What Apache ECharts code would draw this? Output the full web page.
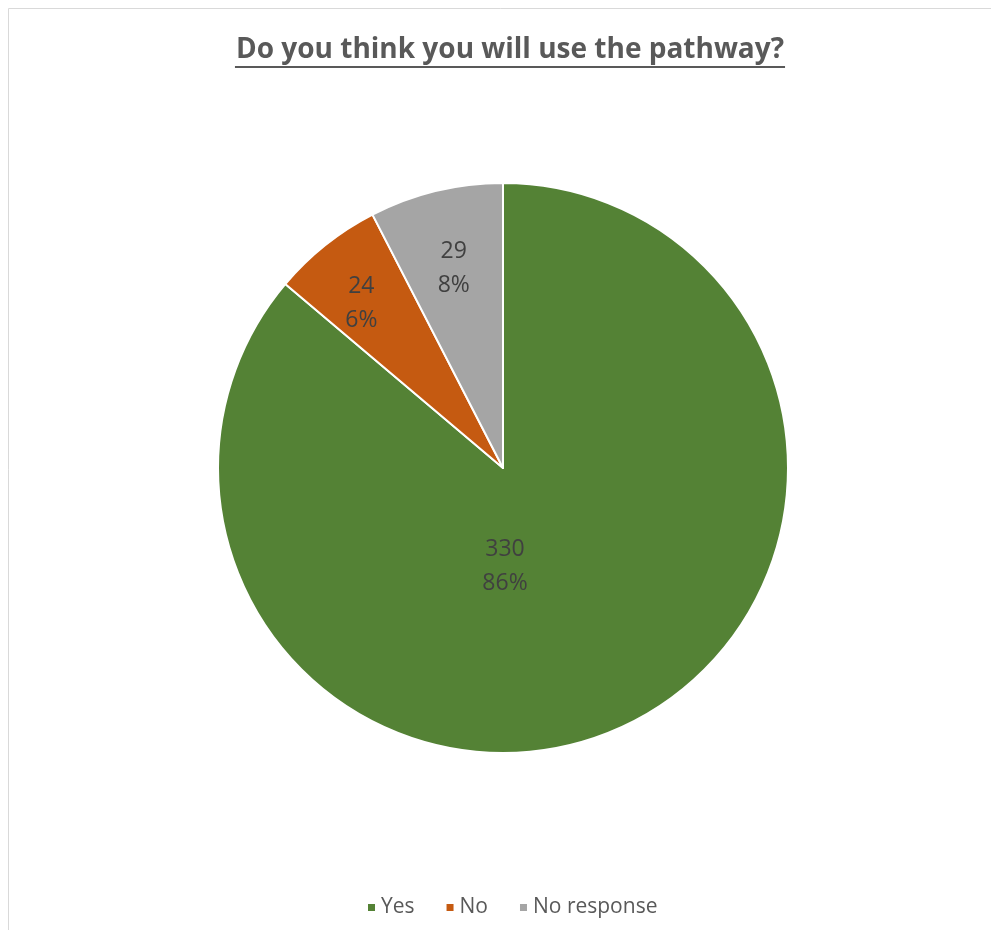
<!DOCTYPE html>
<html><head><meta charset="utf-8">
<script src="https://cdn.jsdelivr.net/npm/echarts@6/dist/echarts.min.js"></script>
<style>html,body{margin:0;padding:0;background:#fff}#c{width:991px;height:930px}</style>
</head><body><div id="c"></div>
<script>
const titleText = 'Do you think you will use the pathway?';
const categories = ['Yes', 'No', 'No response'];
const values = [330, 24, 29];
const colors = ['#548235', '#C55A11', '#A5A5A5'];
const labelOffsets = [[2, 98], [-51, -51], [-15, -58]];
const font = '"Open Sans", Lato, sans-serif';

const chart = echarts.init(document.getElementById('c'));
const total = values.reduce((a, b) => a + b, 0);
chart.setOption({
  animation: false,
  title: {
    text: titleText, left: 505, textAlign: 'center', top: 31,
    textStyle: { fontFamily: font, fontSize: 28, fontWeight: 'bold', color: '#595959' }
  },
  legend: {
    bottom: 7, left: 361, itemWidth: 9, itemHeight: 9, itemGap: 30, icon: 'rect',
    textStyle: { fontFamily: font, fontSize: 21, color: '#595959' },
    data: categories
  },
  series: [{
    type: 'pie', center: [503, 468], radius: 285, startAngle: 90, clockwise: true,
    itemStyle: { borderColor: '#fff', borderWidth: 2 },
    label: {
      position: 'inside', fontFamily: font, fontSize: 23, color: '#404040', lineHeight: 34,
      formatter: p => p.value + '\n' + Math.round(p.value / total * 100) + '%'
    },
    labelLine: { show: false },
    data: categories.map((c, i) => ({
      name: c, value: values[i], itemStyle: { color: colors[i] },
      label: i === 0 ? { position: 'center', offset: labelOffsets[i] } : { offset: labelOffsets[i] }
    }))
  }]
});
const frame = { type: 'rect', shape: { x: 8.5, y: 8.5, width: 1000, height: 1000 }, style: { fill: 'none', stroke: '#d9d9d9', lineWidth: 1 }, silent: true };
chart.setOption({ graphic: [frame] });
setTimeout(() => {
  const view = chart._componentsViews.find(v => v.__model && v.__model.mainType === 'title');
  const rect = view.group.getBoundingRect();
  const g = view.group;
  const y = g.y + rect.y + rect.height - 2;
  chart.setOption({ graphic: [frame,
    { type: 'line', shape: { x1: g.x + rect.x + 4, y1: y, x2: g.x + rect.x + rect.width - 4, y2: y }, style: { stroke: '#595959', lineWidth: 2 }, silent: true }
  ]});
}, 0);
</script></body></html>
